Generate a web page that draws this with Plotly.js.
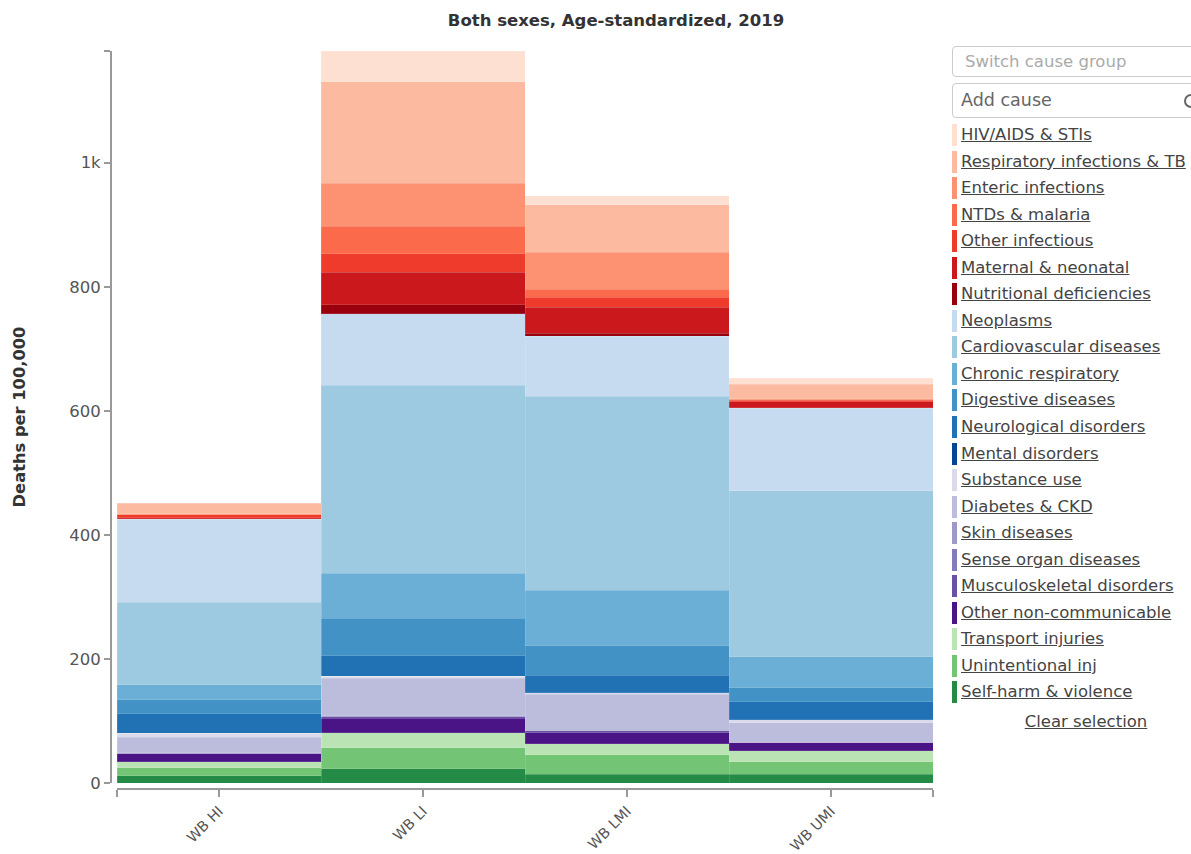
<!DOCTYPE html>
<html>
<head>
<meta charset="utf-8">
<script src="https://cdn.plot.ly/plotly-3.0.1.min.js"></script>
<style>
  html, body { margin: 0; padding: 0; width: 1191px; height: 854px; overflow: hidden; background: #fff; }
  #chart { position: absolute; left: 0; top: 0; width: 1191px; height: 854px; }
  .side { position: absolute; left: 952px; top: 46px; width: 300px; font-family: Verdana, "DejaVu Sans", sans-serif; }
  .box { box-sizing: border-box; border: 1px solid #ccc; border-radius: 4px; background: #fff; position: relative; }
  .box1 { height: 31px; width: 300px; color: #aaa; font-size: 16.5px; line-height: 30px; padding-left: 12px; }
  .box2 { height: 35px; width: 300px; margin-top: 6px; color: #666; font-size: 17.5px; line-height: 33px; padding-left: 8px; }
  .icon { position: absolute; left: 231px; top: 10px; width: 10px; height: 10px; border: 2px solid #666; border-radius: 50%; }
  .list { margin-top: 5px; }
  .row { height: 26.55px; position: relative; }
  .sw { position: absolute; left: 0; top: 1px; width: 5px; height: 22px; }
  .lbl { position: absolute; left: 9px; top: 0; line-height: 24px; font-size: 16.5px; color: #444; text-decoration: underline; white-space: nowrap; }
  .clear { position: absolute; left: 0; width: 268px; text-align: center; top: 666px; font-size: 16.5px; color: #444; text-decoration: underline; }
</style>
</head>
<body>
<div id="chart"></div>
<div class="side">
  <div class="box box1">Switch cause group</div>
  <div class="box box2">Add cause<span class="icon"></span></div>
  <div class="list" id="list"></div>
  <div class="clear">Clear selection</div>
</div>
<script>
// Categories (x axis)
const categories = ['WB HI', 'WB LI', 'WB LMI', 'WB UMI'];

// Causes in legend order (top of stack first)
const causes = [
  'HIV/AIDS & STIs', 'Respiratory infections & TB', 'Enteric infections', 'NTDs & malaria',
  'Other infectious', 'Maternal & neonatal', 'Nutritional deficiencies', 'Neoplasms',
  'Cardiovascular diseases', 'Chronic respiratory', 'Digestive diseases', 'Neurological disorders',
  'Mental disorders', 'Substance use', 'Diabetes & CKD', 'Skin diseases',
  'Sense organ diseases', 'Musculoskeletal disorders', 'Other non-communicable',
  'Transport injuries', 'Unintentional inj', 'Self-harm & violence'
];

const colors = [
  '#fee0d2', '#fcbba1', '#fc9272', '#fb6a4a', '#ef3b2c', '#cb181d', '#99000d',
  '#c6dbef', '#9ecae1', '#6baed6', '#4292c6', '#2171b5', '#084594',
  '#dadaeb', '#bcbddc', '#9e9ac8', '#807dba', '#6a51a3', '#4a1486',
  '#bae4b3', '#74c476', '#238b45'
];

// Deaths per 100,000 by cause (legend order), one array per income group
const wbHI  = [1.2, 17.3, 1.5, 0.1, 4.5, 1.5, 0.8, 133.9, 132.7, 24.7, 22.6, 31.3, 0.1, 6.5, 24.7, 0.5, 0, 1.5, 12.4, 9.7, 13.4, 11.3];
const wbLI  = [49.4, 163.9, 69.3, 44.6, 29.6, 52.1, 15.0, 114.6, 303.8, 72.0, 60.8, 32.8, 0.1, 3.2, 60.8, 1.0, 0, 2.8, 23.1, 24.2, 34.4, 22.6];
const wbLMI = [14.5, 77.0, 59.3, 13.2, 16.2, 41.9, 4.3, 97.3, 312.3, 89.8, 47.3, 28.5, 0.1, 2.2, 58.0, 1.0, 0, 2.8, 17.8, 18.2, 31.2, 14.0];
const wbUMI = [9.7, 23.6, 1.5, 0.3, 3.0, 9.0, 1.5, 132.7, 267.8, 49.4, 22.6, 29.6, 0.1, 4.3, 31.2, 0.5, 0, 1.0, 13.0, 17.2, 20.4, 14.0];

const yTickVals = [0, 200, 400, 600, 800, 1000];
const yTickText = ['0', '200', '400', '600', '800', '1k'];

const groups = [wbHI, wbLI, wbLMI, wbUMI];
const xIdx = categories.map((c, i) => i);

// Build traces bottom-up so the stack order matches the legend (top first)
const traces = [];
for (let k = causes.length - 1; k >= 0; k--) {
  traces.push({
    type: 'bar',
    name: causes[k],
    x: xIdx,
    y: groups.map(g => g[k]),
    width: 1,
    marker: { color: colors[k], line: { color: 'rgba(255,255,255,0.25)', width: 0.5 } },
    hoverinfo: 'skip'
  });
}

const totals = groups.map(g => g.reduce((a, b) => a + b, 0));
const yMax = Math.max(...totals);

const W = 1191, H = 854;
const L = 111, R = W - 933, T = 51, B = H - 789;
const pw = W - L - R, ph = H - T - B;

const font = 'Verdana, "DejaVu Sans", sans-serif';

const layout = {
  width: W, height: H,
  margin: { l: L, r: R, t: T, b: B, pad: 0 },
  paper_bgcolor: '#fff', plot_bgcolor: '#fff',
  barmode: 'stack', bargap: 0,
  showlegend: false,
  font: { family: font, color: '#555' },
  title: {
    text: '<b>Both sexes, Age-standardized, 2019</b>',
    font: { family: font, size: 16.5, color: '#333' },
    xref: 'container', yref: 'container',
    x: 616 / W, xanchor: 'center',
    y: 1 - 20 / H, yanchor: 'middle'
  },
  xaxis: {
    domain: [6 / pw, 1],
    anchor: 'free', position: 0,
    range: [-0.5, categories.length - 0.5],
    tickmode: 'array',
    tickvals: [-0.5].concat(xIdx, [categories.length - 0.5]),
    ticktext: [''].concat(categories, ['']),
    tickangle: -45,
    tickfont: { family: font, size: 14.5, color: '#555' },
    ticks: 'outside', ticklen: 7, tickwidth: 2, tickcolor: '#999',
    showline: true, linecolor: '#999', linewidth: 2,
    showgrid: false, zeroline: false, fixedrange: true
  },
  yaxis: {
    domain: [6 / ph, 1],
    anchor: 'free', position: 0,
    range: [0, yMax],
    tickmode: 'array',
    tickvals: yTickVals.concat([yMax]),
    ticktext: yTickText.concat(['']),
    tickfont: { family: font, size: 16.5, color: '#555' },
    ticks: 'outside', ticklen: 6, tickwidth: 2, tickcolor: '#999',
    showline: true, linecolor: '#999', linewidth: 2,
    showgrid: false, zeroline: false, fixedrange: true,
    title: { text: '<b>Deaths per 100,000</b>', font: { family: font, size: 16.3, color: '#333' }, standoff: 38 }
  }
};

Plotly.newPlot('chart', traces, layout, { displayModeBar: false, staticPlot: true });

// Side legend list built from the same causes / colors
const list = document.getElementById('list');
causes.forEach((c, i) => {
  const row = document.createElement('div');
  row.className = 'row';
  const sw = document.createElement('div');
  sw.className = 'sw';
  sw.style.background = colors[i];
  const lbl = document.createElement('div');
  lbl.className = 'lbl';
  lbl.textContent = c;
  row.appendChild(sw);
  row.appendChild(lbl);
  list.appendChild(row);
});
</script>
</body>
</html>
